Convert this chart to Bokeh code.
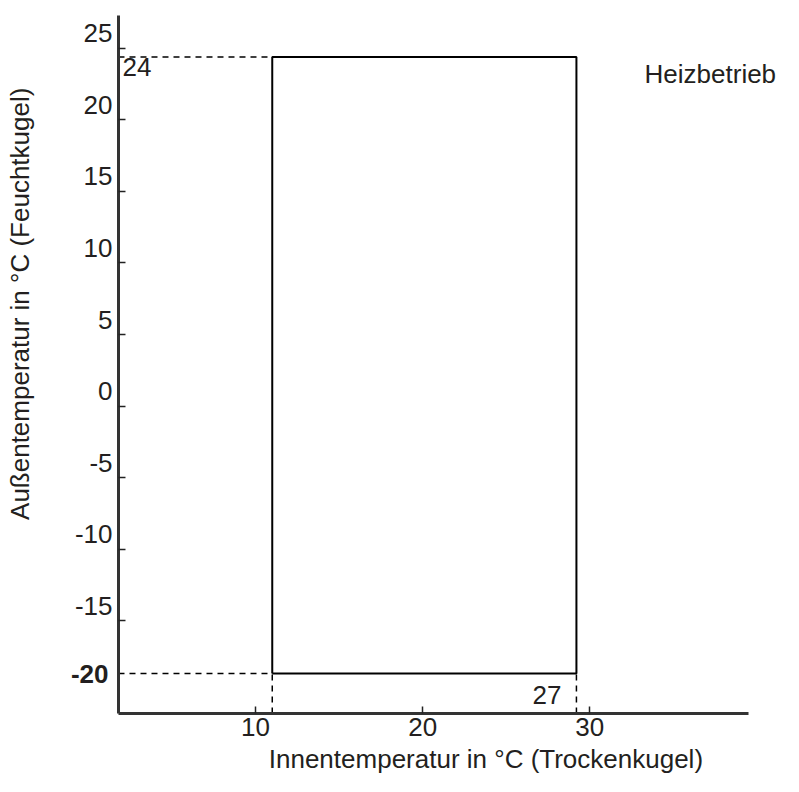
import math
from bokeh.plotting import figure
from bokeh.models import FixedTicker, Label, LabelSet, ColumnDataSource, Range1d
from bokeh.core.properties import value
from bokeh.embed import file_html
from bokeh.resources import INLINE

# ---- data ----
y_ticks = [-15, -10, -5, 0, 5, 10, 15, 20, 25]
x_ticks = [10, 20, 30]
zone_x = [11.0, 29.2]      # indoor temperature (dry bulb), drawn edges
zone_y = [-18.7, 24.4]     # outdoor temperature (wet bulb), drawn edges
zone_label_x = "27"
zone_label_y_top = "24"
zone_label_y_bottom = "-20"
mode_label = "Heizbetrieb"
x_title = "Innentemperatur  in °C (Trockenkugel)"
y_title = "Außentemperatur  in °C (Feuchtkugel)"

# axis extents (data units)
x_start, x_end = 1.8, 39.5
y_start, y_end = -21.5, 27.3
# full visible window (so that texts outside the axes are not clipped)
view_x = (-5.26, 41.59)
view_y = (-25.9, 28.35)

FONT = "Liberation Sans"
TXT = "#231f20"
FS = "26px"

p = figure(width=783, height=776, output_backend="svg", toolbar_location=None,
           x_range=Range1d(*view_x), y_range=Range1d(*view_y),
           min_border_left=0, min_border_right=0, min_border_top=0, min_border_bottom=0)
p.outline_line_color = None
p.xgrid.visible = False
p.ygrid.visible = False
p.background_fill_color = "white"
p.border_fill_color = "white"

for ax in (p.xaxis[0], p.yaxis[0]):
    ax.axis_line_width = 3
    ax.axis_line_color = "#333333"
    ax.major_tick_in = 7
    ax.major_tick_out = 0
    ax.major_tick_line_color = "#222222"
    ax.major_tick_line_width = 1.5
    ax.minor_tick_line_color = None
    ax.major_label_text_font = FONT
    ax.major_label_text_font_size = FS
    ax.major_label_text_color = TXT

p.xaxis.fixed_location = y_start
p.xaxis.bounds = (x_start, x_end)
p.xaxis.ticker = FixedTicker(ticks=x_ticks)
p.xaxis.major_label_standoff = 4
p.yaxis.fixed_location = x_start
p.yaxis.bounds = (y_start, y_end)
p.yaxis.ticker = FixedTicker(ticks=y_ticks)
p.yaxis.major_label_overrides = {t: "" for t in y_ticks}

# y tick labels, sitting slightly above each tick
src = ColumnDataSource(dict(x=[x_start] * len(y_ticks), y=y_ticks, t=[str(t) for t in y_ticks]))
p.add_layout(LabelSet(x="x", y="y", text="t", source=src, x_offset=-6, y_offset=15,
                      text_align="right", text_baseline="middle", text_font=value(FONT),
                      text_font_size=value(FS), text_color=TXT))

# operating zone rectangle
p.line([zone_x[0], zone_x[0], zone_x[1], zone_x[1], zone_x[0]],
       [zone_y[0], zone_y[1], zone_y[1], zone_y[0], zone_y[0]],
       line_color="black", line_width=2)

# dashed guides
dash = dict(line_color="black", line_width=1.5, line_dash="6 5")
p.line([x_start, zone_x[0]], [zone_y[1], zone_y[1]], **dash)
p.line([x_start, zone_x[0]], [zone_y[0], zone_y[0]], **dash)
p.line([zone_x[0], zone_x[0]], [y_start, zone_y[0]], **dash)
p.line([zone_x[1], zone_x[1]], [y_start, zone_y[0]], **dash)

lab = dict(text_font=FONT, text_font_size=FS, text_color=TXT)
p.add_layout(Label(x=x_start, y=zone_y[1], text=zone_label_y_top, x_offset=4, y_offset=-10,
                   text_align="left", text_baseline="middle", **lab))
p.add_layout(Label(x=zone_x[1], y=zone_y[0], text=zone_label_x, x_offset=-15, y_offset=-21,
                   text_align="right", text_baseline="middle", **lab))
p.add_layout(Label(x=x_start, y=zone_y[0], text=zone_label_y_bottom, x_offset=-10, y_offset=0,
                   text_align="right", text_baseline="middle", text_font_style="bold", **lab))
p.add_layout(Label(x=x_end, y=y_end, text=mode_label, x_offset=-104, y_offset=-58,
                   text_align="left", text_baseline="middle", **lab))

# axis titles
p.add_layout(Label(x=24.0, y=y_start, text=x_title, x_offset=0, y_offset=-45,
                   text_align="center", text_baseline="middle", **lab))
p.add_layout(Label(x=x_start, y=7.4, text=y_title, x_offset=-98, y_offset=0, angle=math.pi / 2,
                   text_align="center", text_baseline="middle", **lab))

open("out.html", "w").write(file_html(p, INLINE))
